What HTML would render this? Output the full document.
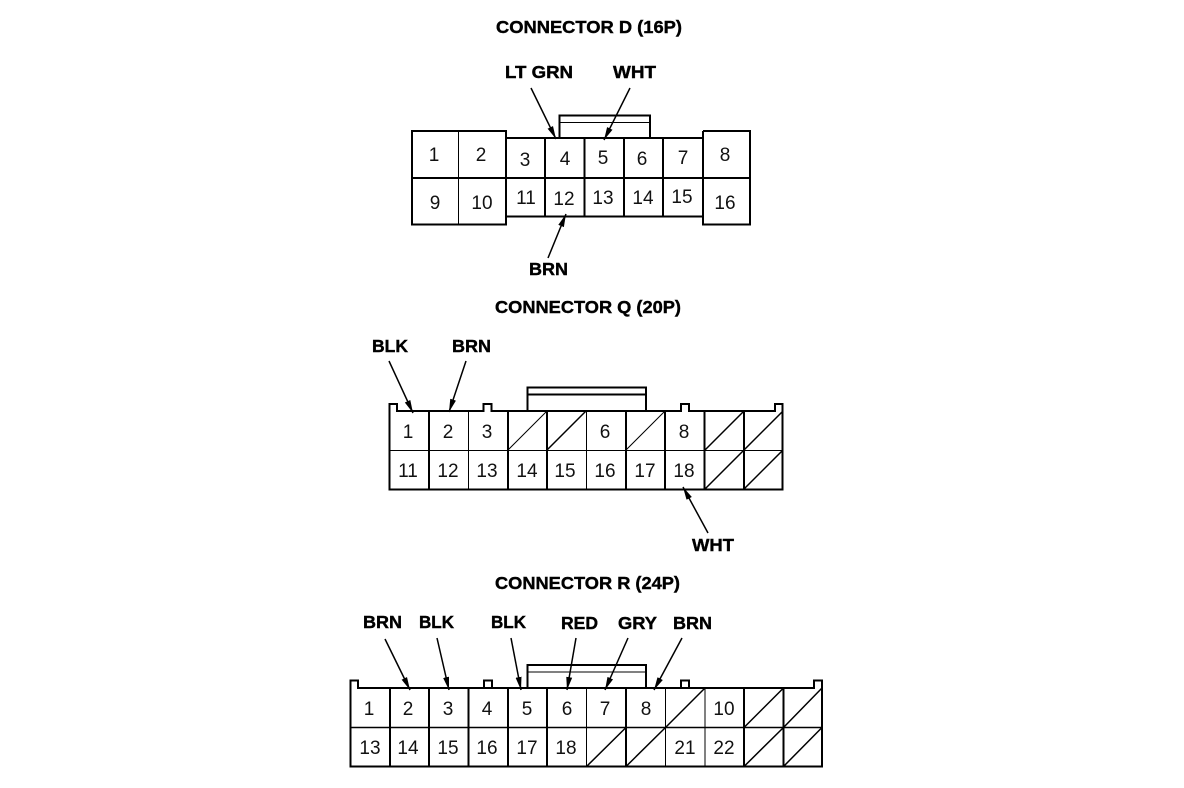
<!DOCTYPE html>
<html><head><meta charset="utf-8"><style>
html,body{margin:0;padding:0;background:#fff}
svg{display:block}
.b{font:bold 17.5px "Liberation Sans",sans-serif;fill:#000;stroke:#000;stroke-width:.4}
.n{font:19px "Liberation Sans",sans-serif;fill:#111;text-anchor:middle}
.k{stroke:#000;stroke-width:2;fill:none}
.t{stroke:#000;stroke-width:1;fill:none}
.a{stroke:#000;stroke-width:1.5;fill:none;marker-end:url(#h)}
</style></head><body>
<svg width="1184" height="788" viewBox="0 0 1184 788" xmlns="http://www.w3.org/2000/svg">
<defs><marker id="h" markerUnits="userSpaceOnUse" markerWidth="14" markerHeight="8" refX="13" refY="4" orient="auto"><path d="M0 1L13 4L0 7Z" fill="#000"/></marker></defs>

<!-- Connector D -->
<text class="b" x="496" y="33" textLength="186" lengthAdjust="spacingAndGlyphs">CONNECTOR D (16P)</text>
<text class="b" x="505" y="78" textLength="68" lengthAdjust="spacingAndGlyphs">LT GRN</text>
<text class="b" x="613" y="78" textLength="43" lengthAdjust="spacingAndGlyphs">WHT</text>
<text class="b" x="529" y="275" textLength="39" lengthAdjust="spacingAndGlyphs">BRN</text>
<path class="k" d="M559.500 138V115.500H650V138"/>
<path class="t" d="M560 122.500H650"/>
<path class="k" d="M412 178V131H506V224.500H412V178M506 138H703M506 216.500H703M703 131H750V224.500H703V131M545 138V216.500M584.500 138V216.500M624 138V216.500M663 138V216.500M703 138V216.500M412 178H750"/>
<path class="t" d="M458.500 131V224"/>
<path class="a" d="M531 88L556 139"/>
<path class="a" d="M630 88L604 140"/>
<path class="a" d="M548 258L566 214"/>
<g class="n">
<text x="434" y="161">1</text><text x="481" y="161">2</text><text x="525" y="166">3</text><text x="565" y="165">4</text><text x="603" y="164">5</text><text x="642" y="165">6</text><text x="683" y="164">7</text><text x="725" y="161">8</text>
<text x="435" y="209">9</text><text x="482" y="209">10</text><text x="526" y="204">11</text><text x="564" y="205">12</text><text x="603" y="204">13</text><text x="643" y="204">14</text><text x="682" y="203">15</text><text x="725" y="209">16</text>
</g>

<!-- Connector Q -->
<text class="b" x="495" y="313" textLength="186" lengthAdjust="spacingAndGlyphs">CONNECTOR Q (20P)</text>
<text class="b" x="372" y="352" textLength="36" lengthAdjust="spacingAndGlyphs">BLK</text>
<text class="b" x="452" y="352" textLength="39" lengthAdjust="spacingAndGlyphs">BRN</text>
<text class="b" x="692" y="551" textLength="42" lengthAdjust="spacingAndGlyphs">WHT</text>
<path class="k" d="M527.500 411V387.500H646V411"/>
<path class="k" d="M528 394.500H646"/>
<path class="k" d="M389.500 489.500V404H397V411H483.500V404H491.500V411H681V404H689V411H775V404H782.500V489.500ZM429 411V489.500M508 411V489.500M547 411V489.500M626 411V489.500M665 411V489.500M704.500 411V489.500M744 411V489.500"/>
<path class="t" d="M390 450.500H782M468.500 411V489M586.500 411V489"/>
<path class="t" d="M508 450L547 411M626 450L665 411"/>
<path class="k" d="M547 450L586 411M705 450L744 411M744 450L783 411M705 489L744 450M744 489L783 450" style="stroke-width:1.500"/>
<path class="a" d="M389 361L413 413"/>
<path class="a" d="M466 361L449 412"/>
<path class="a" d="M708 533L683 487"/>
<g class="n">
<text x="408" y="438">1</text><text x="448" y="438">2</text><text x="487" y="438">3</text><text x="605" y="438">6</text><text x="684" y="438">8</text>
<text x="408" y="477">11</text><text x="448" y="477">12</text><text x="487" y="477">13</text><text x="527" y="477">14</text><text x="565" y="477">15</text><text x="605" y="477">16</text><text x="645" y="477">17</text><text x="684" y="477">18</text>
</g>

<!-- Connector R -->
<text class="b" x="495" y="589" textLength="185" lengthAdjust="spacingAndGlyphs">CONNECTOR R (24P)</text>
<text class="b" x="363" y="628" textLength="39" lengthAdjust="spacingAndGlyphs">BRN</text>
<text class="b" x="419" y="628" textLength="35" lengthAdjust="spacingAndGlyphs">BLK</text>
<text class="b" x="491" y="628" textLength="35" lengthAdjust="spacingAndGlyphs">BLK</text>
<text class="b" x="561" y="629" textLength="37" lengthAdjust="spacingAndGlyphs">RED</text>
<text class="b" x="618" y="629" textLength="39" lengthAdjust="spacingAndGlyphs">GRY</text>
<text class="b" x="673" y="629" textLength="39" lengthAdjust="spacingAndGlyphs">BRN</text>
<path class="k" d="M527.500 688V665H646V688"/>
<path class="t" d="M528 672H646"/>
<path class="k" d="M350.500 766.500V680.500H358V688H814V680.500H822V766.500ZM484 688V680.500H492V688M681 688V680.500H689V688M390 688V766.500M429 688V766.500M468.500 688V766.500M508 688V766.500M547 688V766.500M626 688V766.500M744 688V766.500M783.500 688V766.500"/>
<path class="t" d="M586.500 688V766M665.500 688V766M705 688V766"/>
<path class="k" d="M351 727.500H822" style="stroke-width:1.500"/>
<path class="k" d="M665.500 727.500L705 688M744 727.500L783.500 688M783.500 727.500L822 688M586.500 766.500L626 727.500M626 766.500L665.500 727.500M744 766.500L783.500 727.500M783.500 766.500L822 727.500" style="stroke-width:1.500"/>
<path class="a" d="M385 639L410 690"/>
<path class="a" d="M437 638L449 690"/>
<path class="a" d="M511 638L521 690"/>
<path class="a" d="M576 638L567 690"/>
<path class="a" d="M628 638L605 690"/>
<path class="a" d="M682 638L654 690"/>
<g class="n">
<text x="369" y="715">1</text><text x="408" y="715">2</text><text x="448" y="715">3</text><text x="487" y="715">4</text><text x="527" y="715">5</text><text x="567" y="715">6</text><text x="605" y="715">7</text><text x="646" y="715">8</text><text x="724" y="715">10</text>
<text x="370" y="754">13</text><text x="408" y="754">14</text><text x="448" y="754">15</text><text x="487" y="754">16</text><text x="527" y="754">17</text><text x="566" y="754">18</text><text x="685" y="754">21</text><text x="724" y="754">22</text>
</g>
</svg>
</body></html>
